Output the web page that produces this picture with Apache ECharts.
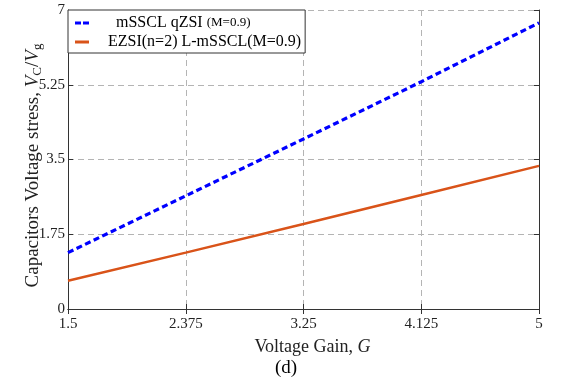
<!DOCTYPE html>
<html>
<head>
<meta charset="utf-8">
<script src="https://cdn.jsdelivr.net/npm/echarts@6/dist/echarts.min.js"></script>
<style>
  html, body { margin: 0; padding: 0; background: #fff; }
  #chart { width: 561px; height: 381px; }
</style>
</head>
<body>
<div id="chart"></div>
<script>
// Voltage gain G (x) and capacitor voltage stress Vc/Vg
const gain = [1.5, 2.375, 3.25, 4.125, 5];
const qzsiStress = [1.32, 2.65, 3.98, 5.32, 6.70];
const ezsiStress = [0.66, 1.32, 1.99, 2.67, 3.35];
const seriesNames = ['mSSCL qZSI (M=0.9)', 'EZSI(n=2) L-mSSCL(M=0.9)'];

const serif = '"Liberation Serif", "DejaVu Serif", serif';
const chart = echarts.init(document.getElementById('chart'));

const pair = (xs, ys) => xs.map((x, i) => [x, ys[i]]);
const gridLine = { show: true, lineStyle: { color: '#b4b4b4', type: [6, 4], width: 1 } };
const frame = { show: true, lineStyle: { color: '#333', width: 1 } };
const ticks = { show: true, inside: true, length: 5, lineStyle: { color: '#333' } };

chart.setOption({
  animation: false,
  title: {
    text: '(d)',
    left: 270, top: 354,
    textStyle: { fontFamily: serif, fontSize: 19, fontWeight: 'normal', color: '#000' }
  },
  grid: { left: 68, right: 22, top: 10, bottom: 72 },
  legend: {
    orient: 'vertical',
    left: 68, top: 10,
    padding: [5, 4, 3, 7],
    itemGap: 3,
    itemWidth: 14,
    itemHeight: 3,
    backgroundColor: '#fff',
    borderColor: '#333',
    borderWidth: 1,
    borderRadius: 0,
    data: [
      { name: seriesNames[0], icon: 'path://M0,0H6V3H0Z M8,0H14V3H8Z', itemStyle: { color: '#0000ff' } },
      { name: seriesNames[1], icon: 'path://M0,0H14V3H0Z', itemStyle: { color: '#d95319' } }
    ],
    formatter: (name) => {
      const i = name.lastIndexOf('(M');
      return name === seriesNames[0]
        ? '{p|}{a|' + name.slice(0, i) + '}{s|' + name.slice(i) + '}'
        : '{a|' + name + '}';
    },
    textStyle: {
      padding: [0, 0, 0, 14],
      rich: {
        p: { width: 8 },
        a: { fontFamily: serif, fontSize: 16, color: '#000' },
        s: { fontFamily: serif, fontSize: 13, color: '#000' }
      }
    }
  },
  xAxis: [{
    type: 'value', min: 1.5, max: 5, interval: 0.875,
    name: 'Voltage Gain, {i|G}',
    nameLocation: 'middle', nameGap: 29,
    nameTextStyle: {
      fontFamily: serif, fontSize: 18, color: '#222', padding: [0, 0, 0, 18],
      rich: { i: { fontFamily: serif, fontSize: 18, fontStyle: 'italic', color: '#222' } }
    },
    axisLine: frame,
    axisTick: ticks,
    axisLabel: { fontFamily: serif, fontSize: 15, color: '#222', margin: 8,
      formatter: (v) => String(+v.toFixed(3)) },
    splitLine: gridLine
  }, {
    type: 'value', position: 'top', min: 1.5, max: 5, interval: 0.875,
    axisLine: frame,
    axisTick: ticks,
    axisLabel: { show: false },
    splitLine: { show: false }
  }],
  yAxis: [{
    type: 'value', min: 0, max: 7, interval: 1.75,
    name: 'Capacitors Voltage stress, {i|V}{sub|C}{n|/}{i|V}{sub|g}',
    nameLocation: 'middle', nameGap: 24,
    nameMoveOverlap: false,
    nameTextStyle: {
      fontFamily: serif, fontSize: 19, color: '#222', padding: [0, 12, 0, 0],
      rich: {
        i: { fontFamily: serif, fontSize: 19, fontStyle: 'italic', color: '#222' },
        n: { fontFamily: serif, fontSize: 19, color: '#222' },
        sub: { fontFamily: serif, fontSize: 13, color: '#222', verticalAlign: 'bottom', padding: [9, 0, 0, 0] }
      }
    },
    axisLine: frame,
    axisTick: ticks,
    axisLabel: { fontFamily: serif, fontSize: 15, color: '#222', margin: 3 },
    splitLine: gridLine
  }, {
    type: 'value', position: 'right', min: 0, max: 7, interval: 1.75,
    axisLine: frame,
    axisTick: ticks,
    axisLabel: { show: false },
    splitLine: { show: false }
  }],
  series: [{
    name: seriesNames[0],
    type: 'line',
    data: pair(gain, qzsiStress),
    showSymbol: false, symbol: 'none',
    lineStyle: { color: '#0000ff', width: 3.2, type: [6, 3.5] },
    itemStyle: { color: '#0000ff' },
    z: 3
  }, {
    name: seriesNames[1],
    type: 'line',
    data: pair(gain, ezsiStress),
    showSymbol: false, symbol: 'none',
    lineStyle: { color: '#d95319', width: 2.5 },
    itemStyle: { color: '#d95319' },
    z: 2
  }]
});
</script>
</body>
</html>
